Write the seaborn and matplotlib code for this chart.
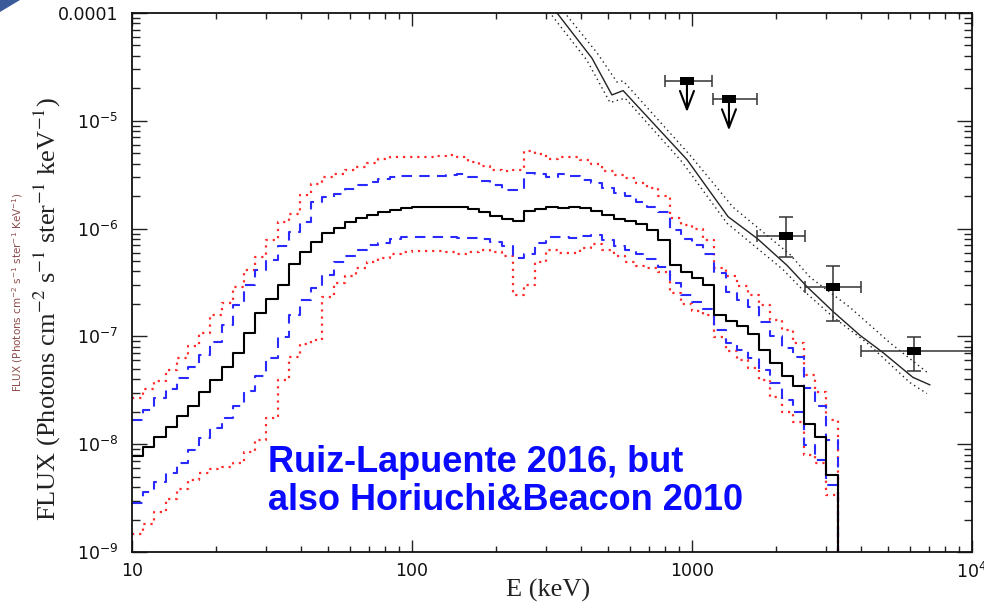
import numpy as np
import pandas as pd
import matplotlib
matplotlib.use("Agg")
import matplotlib.pyplot as plt
import seaborn as sns
from matplotlib.ticker import FixedLocator, FixedFormatter, NullFormatter
from matplotlib.patches import Polygon

# ---------------- data ----------------
# histogram bins in log10(E/keV)
bin_start_logE = 1.0
bin_width_dex = 0.04
n_bins = 63

central_log = [-8.11, -8.03, -7.93, -7.84, -7.74, -7.65, -7.52, -7.40, -7.28, -7.15,
               -6.97, -6.78, -6.65, -6.52, -6.33, -6.22, -6.12, -6.04, -5.99, -5.94,
               -5.90, -5.87, -5.85, -5.83, -5.81, -5.80, -5.80, -5.80, -5.80, -5.80,
               -5.82, -5.85, -5.88, -5.91, -5.93, -5.84, -5.82, -5.80, -5.81, -5.80,
               -5.81, -5.84, -5.87, -5.91, -5.93, -5.96, -6.01, -6.11, -6.34, -6.40,
               -6.46, -6.52, -6.80, -6.86, -6.90, -6.98, -7.13, -7.25, -7.37, -7.46,
               -7.81, -7.93, -8.29]
blue_hi_log = [-7.78, -7.68, -7.57, -7.49, -7.39, -7.28, -7.17, -7.05, -6.89, -6.71,
               -6.52, -6.38, -6.29, -6.16, -6.03, -5.94, -5.75, -5.71, -5.68, -5.63,
               -5.60, -5.57, -5.54, -5.52, -5.51, -5.51, -5.51, -5.51, -5.50, -5.49,
               -5.52, -5.56, -5.60, -5.64, -5.64, -5.48, -5.49, -5.52, -5.49, -5.51,
               -5.55, -5.58, -5.62, -5.67, -5.70, -5.75, -5.80, -5.85, -6.01, -6.10,
               -6.15, -6.24, -6.41, -6.59, -6.66, -6.73, -6.87, -7.00, -7.11, -7.19,
               -7.48, -7.65, -7.96]
blue_lo_log = [-8.55, -8.44, -8.35, -8.27, -8.17, -8.05, -7.94, -7.85, -7.76, -7.65,
               -7.51, -7.37, -7.20, -7.01, -6.80, -6.66, -6.55, -6.43, -6.31, -6.25,
               -6.20, -6.15, -6.13, -6.10, -6.08, -6.08, -6.08, -6.08, -6.08, -6.09,
               -6.09, -6.10, -6.12, -6.16, -6.27, -6.24, -6.13, -6.08, -6.08, -6.09,
               -6.07, -6.06, -6.11, -6.16, -6.20, -6.24, -6.28, -6.36, -6.50, -6.62,
               -6.68, -6.75, -6.94, -7.06, -7.13, -7.20, -7.31, -7.43, -7.59, -7.70,
               -8.01, -8.15, -8.38]
red_hi_log = [-7.57, -7.49, -7.41, -7.31, -7.20, -7.09, -6.97, -6.80, -6.69, -6.54,
              -6.38, -6.26, -6.11, -5.94, -5.86, -5.69, -5.59, -5.52, -5.49, -5.46,
              -5.43, -5.39, -5.35, -5.34, -5.34, -5.34, -5.34, -5.33, -5.32, -5.34,
              -5.38, -5.42, -5.46, -5.47, -5.46, -5.28, -5.31, -5.35, -5.34, -5.34,
              -5.36, -5.40, -5.47, -5.50, -5.53, -5.58, -5.62, -5.70, -5.90, -5.97,
              -6.00, -6.11, -6.37, -6.44, -6.53, -6.62, -6.71, -6.85, -6.94, -7.06,
              -7.36, -7.52, -7.78]
red_lo_log = [-8.83, -8.74, -8.63, -8.51, -8.42, -8.33, -8.27, -8.23, -8.21, -8.17,
              -8.07, -7.96, -7.76, -7.40, -7.19, -7.07, -7.03, -6.63, -6.50, -6.44,
              -6.37, -6.31, -6.27, -6.24, -6.22, -6.21, -6.21, -6.21, -6.22, -6.24,
              -6.22, -6.20, -6.22, -6.25, -6.62, -6.52, -6.31, -6.20, -6.23, -6.23,
              -6.18, -6.14, -6.20, -6.25, -6.31, -6.35, -6.37, -6.40, -6.60, -6.70,
              -6.76, -6.80, -7.01, -7.14, -7.22, -7.29, -7.40, -7.56, -7.70, -7.79,
              -8.10, -8.17, -8.47]

# background model (solid) and its dotted bounds, log10 E / log10 F
model_logE = [2.505, 2.518, 2.643, 2.714, 2.754, 2.982, 3.129, 3.232, 3.339, 3.411,
              3.504, 3.600, 3.682, 3.789, 3.850]
model_logF = [-3.95, -4.00, -4.42, -4.76, -4.72, -5.36, -5.89, -6.09, -6.34, -6.54,
              -6.77, -6.99, -7.15, -7.38, -7.45]
model_hi_logE = [2.533, 2.546, 2.661, 2.732, 2.754, 3.000, 3.146, 3.350, 3.421, 3.564,
                 3.707, 3.843]
model_hi_logF = [-3.95, -4.00, -4.37, -4.64, -4.63, -5.34, -5.80, -6.24, -6.45, -6.73,
                 -7.06, -7.34]
model_lo_logE = [2.480, 2.493, 2.625, 2.707, 2.761, 2.964, 3.125, 3.325, 3.396, 3.504,
                 3.625, 3.779, 3.839]
model_lo_logF = [-3.95, -4.00, -4.44, -4.83, -4.79, -5.38, -5.95, -6.38, -6.57, -6.82,
                 -7.06, -7.43, -7.53]

# measured points
pt_logE = [2.982, 3.132, 3.336, 3.504, 3.793]
pt_logE_lo = [2.904, 3.075, 3.232, 3.404, 3.604]
pt_logE_hi = [3.071, 3.232, 3.404, 3.604, 4.000]
pt_logF = [-4.63, -4.80, -6.07, -6.54, -7.14]
pt_logF_lo = [None, None, -6.26, -6.86, -7.32]
pt_logF_hi = [None, None, -5.89, -6.35, -7.01]
uplim_tip_logF = [-4.92, -5.09]

y_tick_labels = ["10$^{-9}$", "10$^{-8}$", "10$^{-7}$", "10$^{-6}$", "10$^{-5}$", "0.0001"]
x_tick_labels = ["10", "100", "1000", "10$^{4}$"]

# ---------------- figure ----------------
sns.set_theme(style="ticks")
plt.rcParams["font.family"] = ["DejaVu Sans"]
plt.rcParams["mathtext.fontset"] = "dejavusans"

W, H = 984, 606
fig = plt.figure(figsize=(W / 100, H / 100), dpi=100)
ax = fig.add_axes([132 / W, 1 - 552 / H, 840 / W, 539 / H])
ax.set_xscale("log")
ax.set_yscale("log")

edges = bin_start_logE + bin_width_dex * np.arange(n_bins + 1)


def hist_frame(vals):
    x = list(10 ** edges) + [10 ** edges[-1]]
    y = list(10 ** np.array(vals)) + [10 ** vals[-1], 1e-11]
    return pd.DataFrame({"E": x, "F": y})


blue = "#2a2aff"
red = "#ff2a2a"
for vals, color, ls, lw in [
    (red_hi_log, red, (0, (1, 2.2)), 1.6),
    (red_lo_log, red, (0, (1, 2.2)), 1.6),
    (blue_hi_log, blue, (0, (5, 3.5)), 1.5),
    (blue_lo_log, blue, (0, (5, 3.5)), 1.5),
    (central_log, "black", "-", 1.5),
]:
    d = hist_frame(vals)
    sns.lineplot(data=d, x="E", y="F", ax=ax, estimator=None, sort=False,
                 drawstyle="steps-post", color=color, linestyle=ls, lw=lw)

for le, lf, ls in [(model_logE, model_logF, "-"),
                   (model_hi_logE, model_hi_logF, (0, (1, 2.5))),
                   (model_lo_logE, model_lo_logF, (0, (1, 2.5)))]:
    d = pd.DataFrame({"E": 10 ** np.array(le), "F": 10 ** np.array(lf)})
    sns.lineplot(data=d, x="E", y="F", ax=ax, estimator=None, sort=False,
                 color="#222222", linestyle=ls, lw=1.0)

# error bars
pE = 10 ** np.array(pt_logE)
pF = 10 ** np.array(pt_logF)
xerr = np.array([pE - 10 ** np.array(pt_logE_lo), 10 ** np.array(pt_logE_hi) - pE])
ax.errorbar(pE, pF, xerr=xerr, fmt="none", ecolor="#333333", elinewidth=1.1,
            capsize=4.5, capthick=1.1, clip_on=True)
for i in range(len(pE)):
    if pt_logF_lo[i] is not None:
        lo = pF[i] - 10 ** pt_logF_lo[i]
        hi = 10 ** pt_logF_hi[i] - pF[i]
        ax.errorbar([pE[i]], [pF[i]], yerr=[[lo], [hi]], fmt="none", ecolor="#333333",
                    elinewidth=1.1, capsize=5, capthick=1.1)
for i, tip in enumerate(uplim_tip_logF):
    ax.annotate("", xy=(pE[i], 10 ** tip), xytext=(pE[i], pF[i]),
                arrowprops=dict(arrowstyle="->,head_length=1.1,head_width=0.42",
                                lw=1.5, color="black", shrinkA=0, shrinkB=0))
rect = [(-1.3, -0.8), (1.3, -0.8), (1.3, 0.8), (-1.3, 0.8)]
sns.scatterplot(x=pE, y=pF, ax=ax, marker=rect, s=110, color="black",
                edgecolor="black", linewidth=0, zorder=5)

ax.set_xlim(10, 1e4)
ax.set_ylim(1e-9, 1e-4)
ax.set_xlabel("")
ax.set_ylabel("")

ax.xaxis.set_major_locator(FixedLocator([10, 100, 1000, 10000]))
ax.xaxis.set_major_formatter(FixedFormatter(x_tick_labels))
ax.yaxis.set_major_locator(FixedLocator([1e-9, 1e-8, 1e-7, 1e-6, 1e-5, 1e-4]))
ax.yaxis.set_major_formatter(FixedFormatter(y_tick_labels))
ax.xaxis.set_minor_formatter(NullFormatter())
ax.yaxis.set_minor_formatter(NullFormatter())

ax.tick_params(which="both", direction="in", top=True, right=True, colors="#222222",
               labelcolor="#111111", labelsize=12.5, width=1.0)
ax.tick_params(axis="x", which="major", length=9, pad=7)
ax.tick_params(axis="x", which="minor", length=4.5)
ax.tick_params(axis="y", which="major", length=11, pad=10)
ax.tick_params(axis="y", which="minor", length=5.5)
for s in ax.spines.values():
    s.set_linewidth(1.3)
    s.set_color("#111111")

serif = ["Liberation Serif", "DejaVu Serif"]
fig.text(548 / W, 1 - 590 / H, "E (keV)", ha="center", va="center",
         fontsize=19, family=serif, color="#222222")
fig.text(47 / W, 1 - 309 / H,
         r"FLUX (Photons cm$^{-2}$ s$^{-1}$ ster$^{-1}$ keV$^{-1}$)",
         rotation=90, ha="center", va="center", fontsize=19,
         family=serif, color="#222222", math_fontfamily="stix")
fig.text(18 / W, 1 - 292 / H,
         r"FLUX (Photons cm$^{-2}$ s$^{-1}$ ster$^{-1}$ KeV$^{-1}$)",
         rotation=90, ha="center", va="center", fontsize=7.5,
         color="#7b2d2d", alpha=0.85)

note_kw = dict(ha="left", va="baseline", fontsize=26, fontweight="bold",
               color="#0a0aff", family=["Liberation Sans", "DejaVu Sans"])
fig.text(268 / W, 1 - 472 / H, "Ruiz-Lapuente 2016, but", **note_kw)
fig.text(268 / W, 1 - 510 / H, "also Horiuchi&Beacon 2010", **note_kw)

fig.patches.append(Polygon([(0, 1), (20 / W, 1), (0, 1 - 12 / H)], closed=True,
                           transform=fig.transFigure, facecolor="#3b5a9a",
                           edgecolor="none"))

fig.savefig("out.png", dpi=100)
